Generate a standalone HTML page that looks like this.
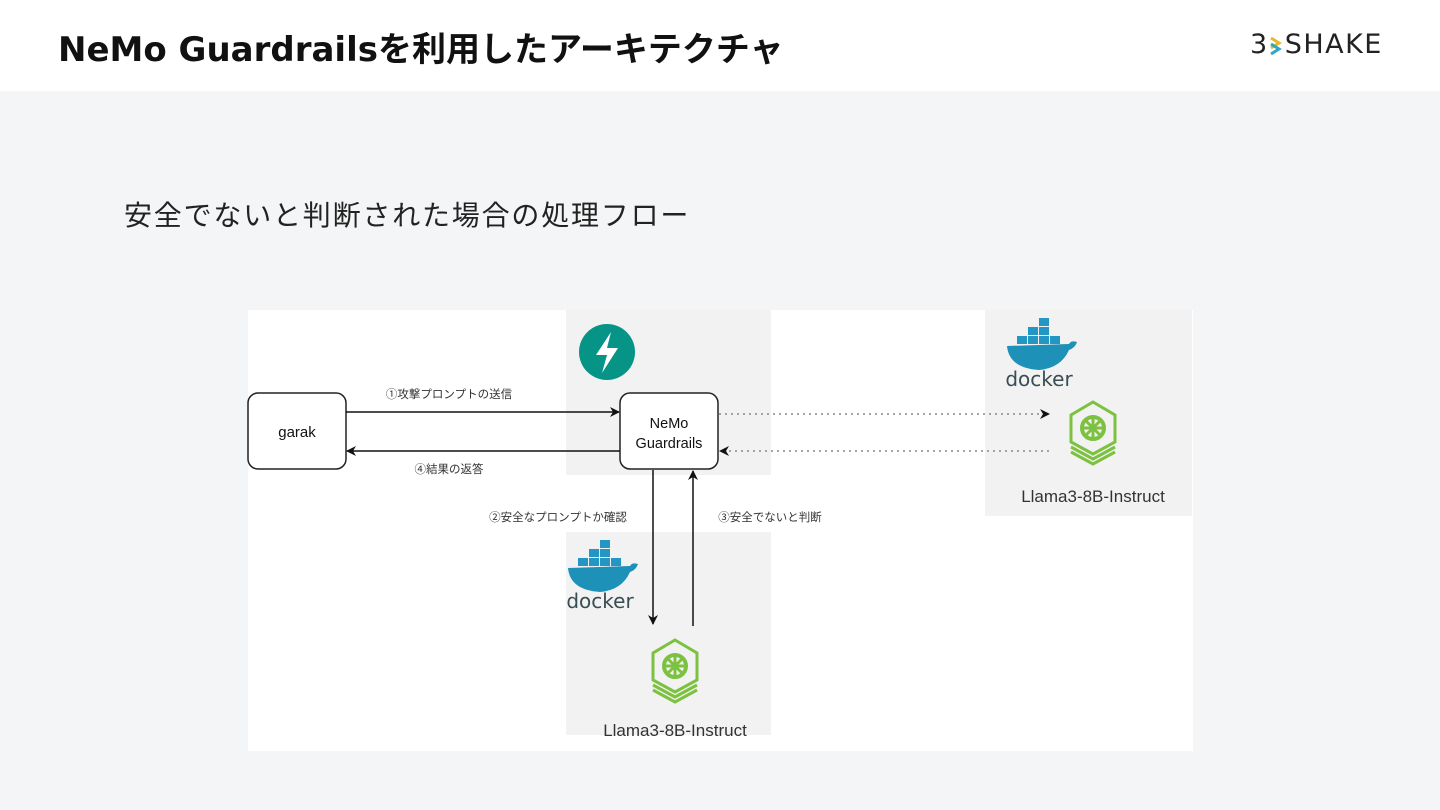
<!DOCTYPE html>
<html><head><meta charset="utf-8"><style>
html,body{margin:0;padding:0}
body{width:1440px;height:810px;background:#f4f5f6;position:relative;overflow:hidden;font-family:"Liberation Sans","Noto Sans CJK JP",sans-serif}
.hdr{position:absolute;left:0;top:0;width:1440px;height:91px;background:#fff}
.title{position:absolute;left:58px;top:22px;font-size:34px;font-weight:bold;color:#111;letter-spacing:0px;font-family:"DejaVu Sans","Noto Sans CJK JP",sans-serif}
.logo{position:absolute;left:1250px;top:29px;font-size:27px;color:#222;letter-spacing:1.5px;font-family:"DejaVu Sans",sans-serif}
.sub{position:absolute;left:124px;top:194px;font-size:28px;color:#222;letter-spacing:1.8px}
svg{position:absolute;left:0;top:0}
</style></head><body>
<div class="hdr"></div>
<div class="title">NeMo Guardrailsを利用したアーキテクチャ</div>
<div class="logo">3<span style="display:inline-block;width:16px"></span>SHAKE</div>
<div class="sub">安全でないと判断された場合の処理フロー</div>
<svg width="1440" height="810" viewBox="0 0 1440 810" font-family="Liberation Sans, Noto Sans CJK JP, sans-serif">
<defs>
<marker id="ah" markerWidth="10" markerHeight="10" refX="9" refY="5" orient="auto" markerUnits="userSpaceOnUse"><path d="M0,0 L10,5 L0,10 L3,5 Z" fill="#111"/></marker>
<g id="llama">
<path d="M0,-26 L22,-13 L22,14 L0,26 L-22,14 L-22,-13 Z" fill="none" stroke="#7cc240" stroke-width="3"/>
<path d="M-22,19 L0,31 L22,19" fill="none" stroke="#7cc240" stroke-width="3"/>
<path d="M-22,24 L0,36 L22,24" fill="none" stroke="#7cc240" stroke-width="3"/>
<circle r="11" fill="none" stroke="#7cc240" stroke-width="4"/>
<path d="M-12,0 H12 M0,-12 V12 M-8,-8 L8,8 M8,-8 L-8,8" stroke="#7cc240" stroke-width="3"/>
</g>
<g id="docker">
<path d="M-32,0 Q-30,22 0,24 Q22,22 30,4 Q36,2 38,-4 Q32,-6 30,-2 Z" fill="#1d91b8"/>
<rect x="-22" y="-10" width="10" height="8" fill="#2496c4"/><rect x="-11" y="-10" width="10" height="8" fill="#2496c4"/><rect x="0" y="-10" width="10" height="8" fill="#2496c4"/><rect x="11" y="-10" width="10" height="8" fill="#2496c4"/>
<rect x="-11" y="-19" width="10" height="8" fill="#2496c4"/><rect x="0" y="-19" width="10" height="8" fill="#2496c4"/>
<rect x="0" y="-28" width="10" height="8" fill="#2496c4"/>
<text x="0" y="40" font-size="20" text-anchor="middle" fill="#394d54" font-family="DejaVu Sans, sans-serif">docker</text>
</g>
</defs>
<rect x="248" y="310" width="945" height="441" fill="#fff"/>
<rect x="566" y="310" width="205" height="165" fill="#f2f2f2"/>
<rect x="566" y="532" width="205" height="203" fill="#f2f2f2"/>
<rect x="985" y="310" width="207" height="206" fill="#f2f2f2"/>
<circle cx="607" cy="352" r="28" fill="#059485"/>
<path d="M611,332 L596,355 L607,355 L602,373 L618,348 L607,348 Z" fill="#fff"/>
<rect x="248" y="393" width="98" height="76" rx="10" fill="#fff" stroke="#222" stroke-width="1.5"/>
<text x="297" y="437" font-size="15" text-anchor="middle" fill="#111">garak</text>
<rect x="620" y="393" width="98" height="76" rx="10" fill="#fff" stroke="#222" stroke-width="1.5"/>
<text x="669" y="428" font-size="14.5" text-anchor="middle" fill="#111">NeMo</text>
<text x="669" y="448" font-size="14.5" text-anchor="middle" fill="#111">Guardrails</text>
<line x1="346" y1="412" x2="619" y2="412" stroke="#111" stroke-width="1.5" marker-end="url(#ah)"/>
<line x1="620" y1="451" x2="347" y2="451" stroke="#111" stroke-width="1.5" marker-end="url(#ah)"/>
<text x="449" y="398" font-size="11.5" text-anchor="middle" fill="#333">①攻撃プロンプトの送信</text>
<text x="449" y="473" font-size="11.5" text-anchor="middle" fill="#333">④結果の返答</text>
<line x1="653" y1="470" x2="653" y2="624" stroke="#111" stroke-width="1.5" marker-end="url(#ah)"/>
<line x1="693" y1="626" x2="693" y2="471" stroke="#111" stroke-width="1.5" marker-end="url(#ah)"/>
<text x="558" y="521" font-size="11.5" text-anchor="middle" fill="#333">②安全なプロンプトか確認</text>
<text x="770" y="521" font-size="11.5" text-anchor="middle" fill="#333">③安全でないと判断</text>
<line x1="719" y1="414" x2="1049" y2="414" stroke="#888" stroke-width="1.5" stroke-dasharray="2,4" marker-end="url(#ah)"/>
<line x1="1049" y1="451" x2="720" y2="451" stroke="#888" stroke-width="1.5" stroke-dasharray="2,4" marker-end="url(#ah)"/>
<use href="#docker" x="1039" y="346"/>
<use href="#llama" x="1093" y="428"/>
<text x="1093" y="502" font-size="17" text-anchor="middle" fill="#333">Llama3-8B-Instruct</text>
<use href="#docker" x="600" y="568"/>
<use href="#llama" x="675" y="666"/>
<text x="675" y="736" font-size="17" text-anchor="middle" fill="#333">Llama3-8B-Instruct</text>
<path d="M1271,38 L1279,43 L1271,48" fill="none" stroke="#e8b72a" stroke-width="3"/>
<path d="M1271,44 L1279,49 L1271,54" fill="none" stroke="#2aa7c9" stroke-width="3"/>
</svg>
</body></html>
